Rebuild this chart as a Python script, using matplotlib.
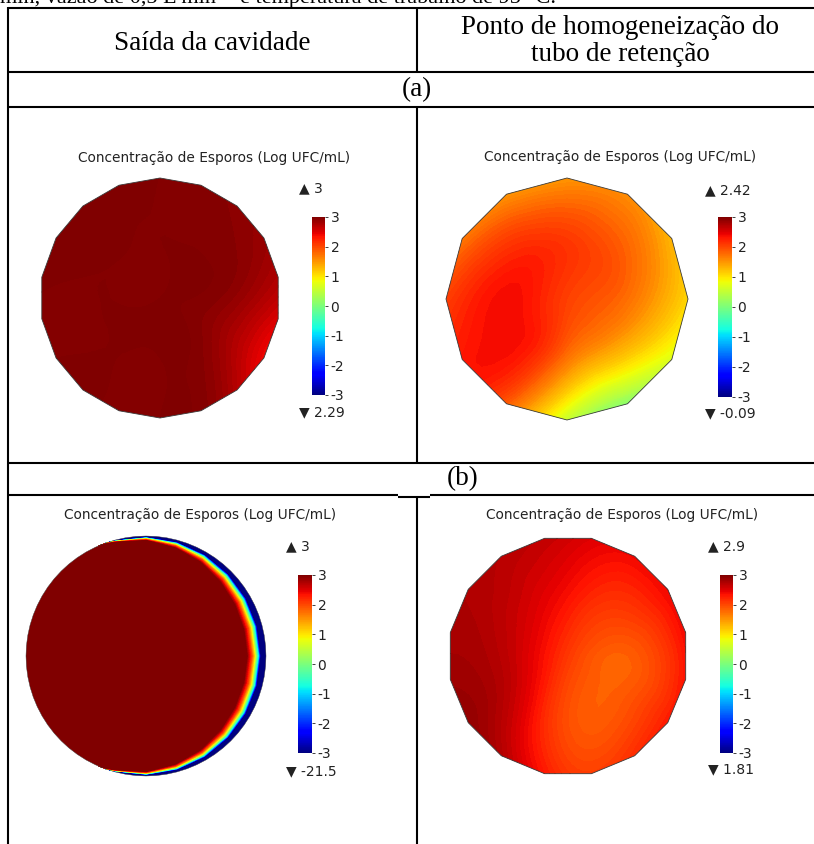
import numpy as np
import matplotlib
matplotlib.use("Agg")
import matplotlib.pyplot as plt
import matplotlib.tri as mtri
from matplotlib.patches import Polygon
from matplotlib.colors import Normalize
from matplotlib.cm import ScalarMappable

plt.rcParams['axes.unicode_minus'] = False

W, H = 814, 844

# textos da tabela
legenda_topo = "min, vazão de 0,5 L min⁻¹ e temperatura de trabalho de 95 °C."
col_titulos = ["Saída da cavidade", "Ponto de homogeneização do\ntubo de retenção"]
linhas_rot = ["(a)", "(b)"]
titulo_graf = "Concentração de Esporos (Log UFC/mL)"
cbar_ticks = [3, 2, 1, 0, -1, -2, -3]

# max / min de cada painel (a-esq, a-dir, b-esq, b-dir)
val_max = ["3", "2.42", "3", "2.9"]
val_min = ["2.29", "-0.09", "-21.5", "1.81"]

# angulos dos nos (graus, 0 = direita, anti-horario)
ang12 = [0, 30, 60, 90, 120, 150, 180, 210, 240, 270, 300, 330]
ang24 = [0, 15, 30, 45, 60, 75, 90, 105, 120, 135, 150, 165,
         180, 195, 210, 225, 240, 255, 270, 285, 300, 315, 330, 345]

# (a) saida da cavidade: centro, anel 0.5R, borda
a1_centro = 3.0
a1_meio = [2.95, 3, 3, 3, 3, 3, 3, 3, 3, 3, 3, 2.9]
a1_borda = [2.6, 2.85, 2.95, 3, 3, 3, 3, 3, 3, 3, 2.85, 2.35]

# (a) ponto de homogeneizacao
a2_centro = 2.05
a2_meio = [1.75, 1.9, 2.0, 2.1, 2.2, 2.3, 2.38, 2.38, 2.2, 1.7, 1.5, 1.6]
a2_borda = [1.0, 1.2, 1.5, 1.4, 1.4, 1.6, 2.0, 2.3, 1.8, 0.4, -0.09, 0.6]

# (b) saida da cavidade: espessura da faixa na borda (fracao do raio) e perfil
b1_faixa = [0.16, 0.16, 0.15, 0.13, 0.10, 0.07, 0.04, 0.02, 0, 0, 0, 0,
            0, 0, 0, 0, 0, 0.02, 0.04, 0.07, 0.10, 0.13, 0.15, 0.16]
b1_perfil_pos = [0, 0.25, 0.4, 0.5, 0.6, 0.7, 1.0]
b1_perfil_val = [3, 2, 1, 0, -1, -3, -21.5]

# (b) ponto de homogeneizacao
b2_centro = 2.1
b2_meio = [1.85, 2.0, 2.15, 2.35, 2.5, 2.6, 2.65, 2.6, 2.3, 1.95, 1.85, 1.85]
b2_borda = [2.45, 2.45, 2.45, 2.6, 2.7, 2.75, 2.8, 2.9, 2.7, 2.15, 2.2, 2.35]

cmap = plt.get_cmap('jet')
norm = Normalize(-3, 3)
niveis = np.linspace(-3, 3, 121)

fig = plt.figure(figsize=(W / 100, H / 100), dpi=100)
bg = fig.add_axes([0, 0, 1, 1])
bg.set_xlim(0, W)
bg.set_ylim(H, 0)
bg.axis('off')


def fig_rect(x0, y0, x1, y1):
    return [x0 / W, 1 - y1 / H, (x1 - x0) / W, (y1 - y0) / H]


def poligono(cx, cy, R, lados, rot, lw):
    th = np.deg2rad(rot + np.arange(lados) * 360 / lados)
    verts = np.column_stack([cx + R * np.cos(th), cy - R * np.sin(th)])
    p = Polygon(verts, closed=True, facecolor='none', edgecolor='#3a3a3a', lw=lw, zorder=3)
    bg.add_patch(p)
    return p


def desenha(xs, ys, zs, cx, cy, R, lados, rot, refinar, lw):
    tri = mtri.Triangulation(xs, ys)
    z = np.array(zs, dtype=float)
    if refinar:
        interp = mtri.CubicTriInterpolator(tri, z, kind='min_E')
        tri, z = mtri.UniformTriRefiner(tri).refine_field(z, triinterpolator=interp, subdiv=3)
    cs = bg.tricontourf(tri, z, levels=niveis, cmap=cmap, norm=norm,
                        extend='both', antialiased=False)
    p = poligono(cx, cy, R, lados, rot, lw)
    cs.set_clip_path(p)


def campo_suave(cx, cy, R, centro, meio, borda, lados, rot):
    xs, ys, zs = [cx], [cy], [centro]
    for r, vals in [(0.5, meio), (1.05, borda)]:
        for a, v in zip(ang12, vals):
            t = np.deg2rad(a)
            xs.append(cx + r * R * np.cos(t))
            ys.append(cy - r * R * np.sin(t))
            zs.append(v)
    desenha(xs, ys, zs, cx, cy, R, lados, rot, True, 0.6)


def campo_faixa(cx, cy, R):
    xs, ys, zs = [cx], [cy], [3.0]

    def add(r, a, v):
        t = np.deg2rad(a)
        xs.append(cx + r * R * np.cos(t))
        ys.append(cy - r * R * np.sin(t))
        zs.append(v)

    for a in ang12:
        add(0.5, a, 3.0)
    for a in ang24:
        add(0.8, a, 3.0)
    for a, t in zip(ang24, b1_faixa):
        if t == 0:
            add(1.04, a, 3.0)
        else:
            for p, v in zip(b1_perfil_pos, b1_perfil_val):
                add(1 - t + p * t, a, v)
            add(1.04, a, b1_perfil_val[-1])
    desenha(xs, ys, zs, cx, cy, R, 72, 0, False, 0.3)


def barra(x0, y0, x1, y1):
    cax = fig.add_axes(fig_rect(x0, y0, x1, y1))
    cb = fig.colorbar(ScalarMappable(norm=norm, cmap=cmap), cax=cax)
    cb.set_ticks(cbar_ticks)
    cb.outline.set_visible(False)
    cax.tick_params(length=2.5, width=0.6, labelsize=10, pad=1.5, colors='#222222')


# ---- paineis
campo_suave(160, 298, 120, a1_centro, a1_meio, a1_borda, 18, 90)
campo_suave(567, 299, 121, a2_centro, a2_meio, a2_borda, 12, 90)
campo_faixa(146, 656, 120)
campo_suave(568, 656, 120, b2_centro, b2_meio, b2_borda, 16, 90 + 11.25)

titulos_xy = [(214, 158), (620, 157), (200, 515), (622, 515)]
for (x, y) in titulos_xy:
    bg.text(x, y, titulo_graf, ha='center', va='center', fontsize=9.9, color='#222222')

barras = [(312, 217, 325, 395), (718, 217, 732, 397), (298, 575, 312, 753), (720, 575, 733, 753)]
for b in barras:
    barra(*b)

marcas_xy = [(299, 188, 412), (705, 190, 413), (286, 546, 771), (708, 546, 769)]
for (x, ya, yb), vmax, vmin in zip(marcas_xy, val_max, val_min):
    bg.text(x, ya, "▲ " + vmax, ha='left', va='center', fontsize=10, color='#222222')
    bg.text(x, yb, "▼ " + vmin, ha='left', va='center', fontsize=10, color='#222222')

# ---- tabela
lw = 1.5
kw = dict(color='black', lw=lw, solid_capstyle='butt')
bg.plot([8, W], [8, 8], **kw)
bg.plot([8, 8], [7, H], **kw)
for y in [72, 107, 463]:
    bg.plot([8, W], [y, y], **kw)
bg.plot([8, 398], [495, 495], **kw)
bg.plot([398, 430], [497, 497], **kw)
bg.plot([430, W], [495, 495], **kw)
bg.plot([417, 417], [8, 72], **kw)
bg.plot([417, 417], [107, 463], **kw)
bg.plot([417, 417], [497, H], **kw)

serif = ['Liberation Serif', 'DejaVu Serif']
bg.text(0, 3, legenda_topo, ha='left', va='baseline', fontsize=16, family=serif)
bg.text(212, 44, col_titulos[0], ha='center', va='center', fontsize=19.5, family=serif)
bg.text(620, 41, col_titulos[1], ha='center', va='center', fontsize=19.5, family=serif,
        linespacing=1.08)
bg.text(417, 90, linhas_rot[0], ha='center', va='center', fontsize=19.5, family=serif)
bg.text(463, 479, linhas_rot[1], ha='center', va='center', fontsize=19.5, family=serif)

fig.savefig("out.png", dpi=100)
